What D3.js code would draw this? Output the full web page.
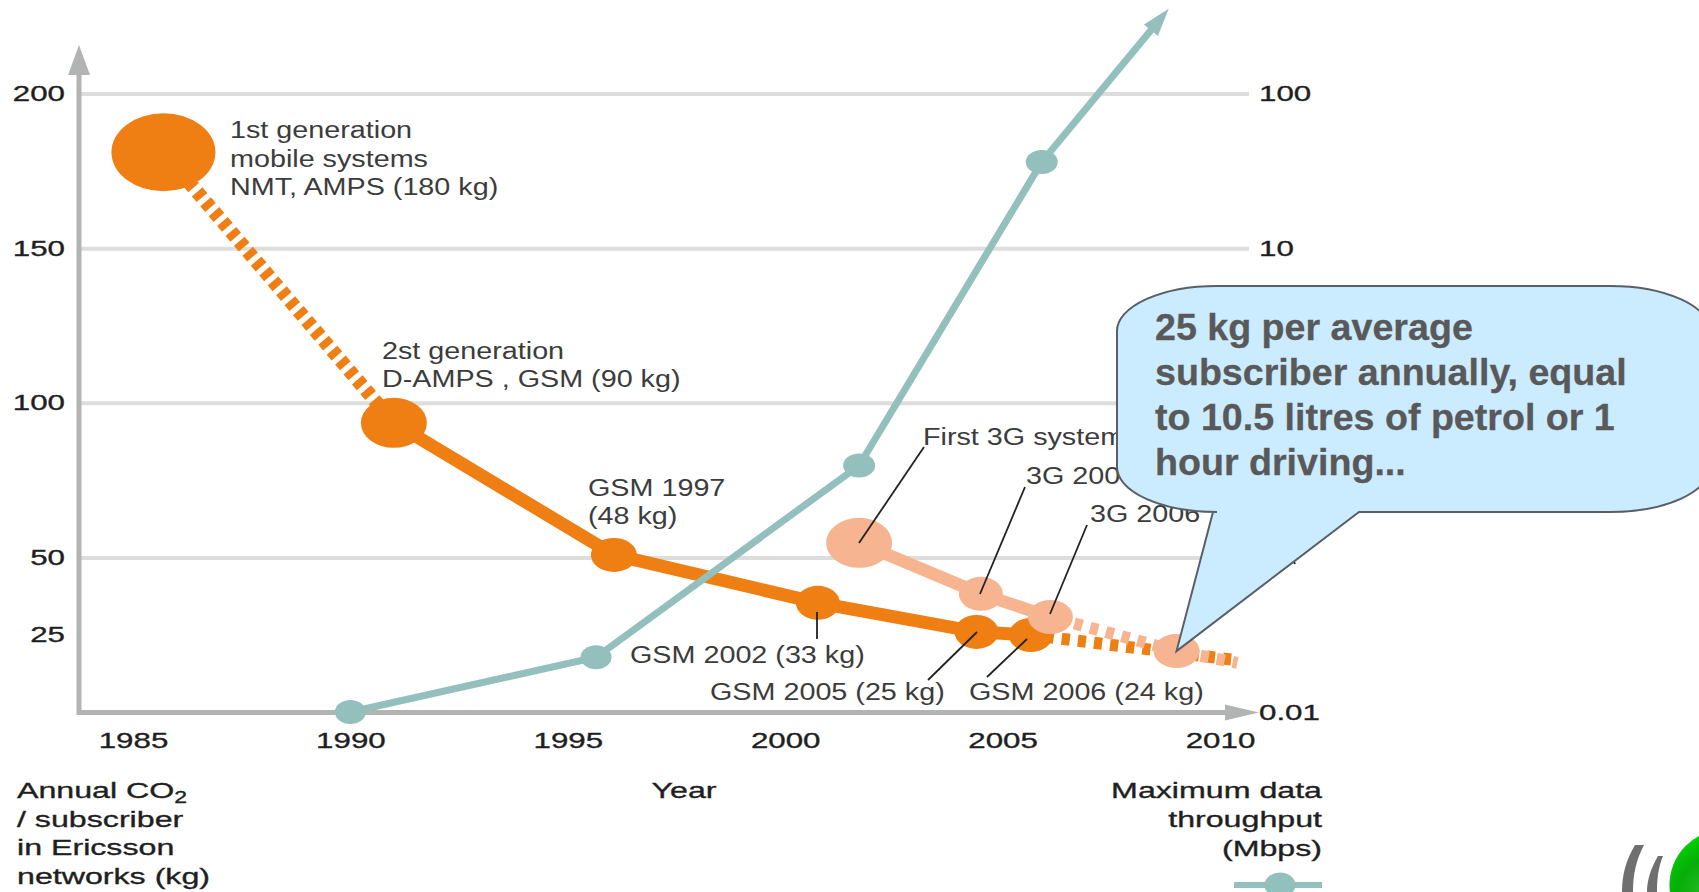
<!DOCTYPE html>
<html>
<head>
<meta charset="utf-8">
<script src="https://d3js.org/d3.v7.min.js"></script>
<style>
  html, body { margin: 0; padding: 0; background: #fff; overflow: hidden; }
  svg { display: block; }
  text { font-family: "Liberation Sans", Arial, sans-serif; }
</style>
</head>
<body>
<div id="chart"></div>
<script>
// values
var co2Years = [1985.7, 1991, 1996.06, 2000.75, 2004.4, 2005.65, 2010.35];
var co2Values = [181, 93.5, 50.8, 35.3, 25.9, 24.9, 16.8];
var g3Years = [2001.7, 2004.5, 2006.1, 2009, 2010.4];
var g3Values = [54.7, 38.2, 30.7, 19.7, 15.9];
var rateYears = [1990, 1995.65, 2001.7, 2005.9, 2008.44];
var rateValues = [0.01, 0.0226, 0.393, 36, 262];

var yearTicks = [1985, 1990, 1995, 2000, 2005, 2010];
var co2Ticks = [25, 50, 100, 150, 200];
var gridTicks = [50, 100, 150, 200];
var rateTicks = [0.01, 10, 100];

var calloutLines = ["25 kg per average", "subscriber annually, equal", "to 10.5 litres of petrol or 1", "hour driving..."];
var co2Title = ["/ subscriber", "in Ericsson", "networks (kg)"];
var rateTitle = ["Maximum data", "throughput", "(Mbps)"];

var svgWidth = 1699;
var svgHeight = 892;

var orange = "#ef7f13";
var peach = "#f6b490";
var teal = "#93bfbc";
var axisGrey = "#b2b4b4";
var gridGrey = "#dddddd";
var inkDark = "#1f1f1f";

var svg = d3.select("#chart")
    .append("svg")
    .attr("width", svgWidth)
    .attr("height", svgHeight);

var defs = svg.append("defs");

var xScale = d3.scaleLinear().domain([1985, 2010]).range([133, 1220]);
var yLeft = d3.scaleLinear().domain([0, 200]).range([712, 93.5]);
var yRight = d3.scaleLog().domain([0.01, 100]).range([712, 93.5]);

function zipPoints(xs, ys) {
    return xs.map(function (x, i) { return [x, ys[i]]; });
}

// the picture is stretched sideways, so the text is too
function stretchedText(str, x, y, opts) {
    return svg.append("text")
        .attr("transform", `translate(${x}, ${y}) scale(${opts.sx}, 1)`)
        .attr("text-anchor", opts.anchor || "start")
        .attr("font-size", opts.size || 22)
        .attr("font-weight", opts.weight || "normal")
        .attr("fill", opts.fill || inkDark)
        .attr("stroke", opts.heavy ? (opts.fill || inkDark) : null)
        .attr("stroke-width", opts.heavy || null)
        .text(str);
}

// grid
var grid = svg.append("g").attr("transform", "translate(79, 0)")
    .call(d3.axisRight(yLeft).tickValues(gridTicks).tickSize(1170).tickFormat(""));
grid.select(".domain").remove();
grid.selectAll("line").attr("stroke", gridGrey).attr("stroke-width", 4);

// axis lines and arrowheads
var axes = svg.append("g");
axes.append("path")
    .attr("d", "M79,72V712.5H1230")
    .attr("fill", "none")
    .attr("stroke", axisGrey)
    .attr("stroke-width", 5);
axes.append("path").attr("d", "M79,45L90,75H68Z").attr("fill", axisGrey);
axes.append("path").attr("d", "M1259,712.5L1225,704.5V720.5Z").attr("fill", axisGrey);

// tick labels through the d3 axes
function styleTicks(axisGroup, offset, anchor) {
    axisGroup.select(".domain").remove();
    axisGroup.selectAll("line").remove();
    axisGroup.selectAll("text")
        .attr("x", 0)
        .attr("y", 0)
        .attr("dy", null)
        .attr("text-anchor", anchor)
        .attr("font-family", null)
        .attr("font-size", 22.5)
        .attr("fill", inkDark)
        .attr("stroke", inkDark)
        .attr("stroke-width", 0.35)
        .attr("transform", `translate(${offset[0]}, ${offset[1]}) scale(1.39, 1)`);
}

var leftAxis = svg.append("g")
    .call(d3.axisLeft(yLeft).tickValues(co2Ticks).tickFormat(d3.format("d")));
styleTicks(leftAxis, [65, 7], "end");

var rightAxis = svg.append("g")
    .call(d3.axisRight(yRight).tickValues(rateTicks).tickFormat(function (d) { return String(d); }));
styleTicks(rightAxis, [1259, 7], "start");

var bottomAxis = svg.append("g")
    .call(d3.axisBottom(xScale).tickValues(yearTicks).tickFormat(d3.format("d")));
styleTicks(bottomAxis, [0, 748], "middle");

// lines
var co2Line = d3.line()
    .x(function (d) { return xScale(d[0]); })
    .y(function (d) { return yLeft(d[1]); });
var rateLine = d3.line()
    .x(function (d) { return xScale(d[0]); })
    .y(function (d) { return yRight(d[1]); });

var co2Points = zipPoints(co2Years, co2Values);
var g3Points = zipPoints(g3Years, g3Values);
var ratePoints = zipPoints(rateYears, rateValues);

function addLine(points, lineFn, color, width, dash, dashOffset) {
    return svg.append("path")
        .attr("d", lineFn(points))
        .attr("fill", "none")
        .attr("stroke", color)
        .attr("stroke-width", width)
        .attr("stroke-dasharray", dash || null)
        .attr("stroke-dashoffset", dashOffset || null);
}

function addDots(points, scaleY, color, radii) {
    svg.append("g").selectAll("ellipse")
        .data(points)
        .enter()
        .append("ellipse")
        .attr("cx", function (d) { return xScale(d[0]); })
        .attr("cy", function (d) { return scaleY(d[1]); })
        .attr("rx", function (d, i) { return radii[i][0]; })
        .attr("ry", function (d, i) { return radii[i][1]; })
        .attr("fill", color);
}

addLine(co2Points.slice(0, 2), co2Line, orange, 14, "7.5 5.5");
addLine(co2Points.slice(1, 6), co2Line, orange, 13);
addLine(co2Points.slice(5), co2Line, orange, 12, "8.2 8.05", -14.8);
addDots(co2Points.slice(0, 6), yLeft, orange, [[52, 39], [33, 25], [23, 17], [22, 17], [22, 17], [22, 17]]);

addLine(g3Points.slice(0, 3), co2Line, peach, 12.5);
addLine(g3Points.slice(2), co2Line, peach, 12, "8.2 8.1", -24.8);
addDots(g3Points.slice(0, 4), yLeft, peach, [[33, 25], [22, 17], [22.5, 17], [23, 17]]);

defs.append("marker")
    .attr("id", "rateHead")
    .attr("markerUnits", "userSpaceOnUse")
    .attr("markerWidth", 30)
    .attr("markerHeight", 24)
    .attr("refX", 2)
    .attr("refY", 12)
    .attr("orient", "auto")
    .append("path")
    .attr("d", "M0,3L28,12L0,21Z")
    .attr("fill", teal);

addLine(ratePoints, rateLine, teal, 7).attr("marker-end", "url(#rateHead)");
addDots(ratePoints.slice(0, 4), yRight, teal, [[15.5, 12], [15.5, 12], [16, 12], [16, 12]]);

// notes
var notes = [
    ["1st generation", 230, 138], ["mobile systems", 230, 167], ["NMT, AMPS (180 kg)", 230, 195],
    ["2st generation", 382, 359], ["D-AMPS , GSM (90 kg)", 382, 387],
    ["GSM 1997", 588, 496], ["(48 kg)", 588, 524],
    ["First 3G system", 923, 445], ["3G 2004", 1026, 484], ["3G 2006", 1090, 522],
    ["GSM 2002 (33 kg)", 630, 663], ["GSM 2005 (25 kg)", 710, 700], ["GSM 2006 (24 kg)", 969, 700]
];
notes.forEach(function (n) {
    stretchedText(n[0], n[1], n[2], { sx: 1.25, size: 23, fill: "#3c3c3c" });
});

var leaders = [
    [924, 447, 859, 543], [1025, 487, 980, 594], [1087, 525, 1050, 614],
    [817, 612, 817, 639], [977, 632, 928, 680], [1027, 639, 987, 677], [1292, 558, 1295, 564]
];
svg.append("g").selectAll("line")
    .data(leaders)
    .enter()
    .append("line")
    .attr("x1", function (d) { return d[0]; })
    .attr("y1", function (d) { return d[1]; })
    .attr("x2", function (d) { return d[2]; })
    .attr("y2", function (d) { return d[3]; })
    .attr("stroke", "#222")
    .attr("stroke-width", 1.8);

// axis titles
var titleStyle = { sx: 1.43, size: 22.5, heavy: 0.35 };
var title = stretchedText("Annual CO", 17, 798, titleStyle);
title.append("tspan").attr("dy", 5).attr("font-size", 16).text("2");
co2Title.forEach(function (s, i) {
    stretchedText(s, 17, 827 + i * 28.3, titleStyle);
});
stretchedText("Year", 684, 798, { sx: 1.43, size: 22.5, heavy: 0.35, anchor: "middle" });
rateTitle.forEach(function (s, i) {
    stretchedText(s, 1322, 798 + i * 29, { sx: 1.43, size: 22.5, heavy: 0.35, anchor: "end" });
});

// series key under the right title
svg.append("line")
    .attr("x1", 1234).attr("x2", 1322).attr("y1", 885).attr("y2", 885)
    .attr("stroke", teal).attr("stroke-width", 6);
svg.append("ellipse")
    .attr("cx", 1280).attr("cy", 885).attr("rx", 15.5).attr("ry", 12.5)
    .attr("fill", teal);

// speech bubble, tip sits on the 2009 3G point
var tipX = xScale(g3Years[3]);
var tipY = yLeft(g3Values[3]);
var bubble = "M1217,286H1610A100,45 0 0 1 1710,331V467A100,45 0 0 1 1610,512H1359"
    + `L${tipX},${tipY}L1213,512H1217A100,45 0 0 1 1117,467V331A100,45 0 0 1 1217,286Z`;
svg.append("path")
    .attr("d", bubble)
    .attr("fill", "#cbebff")
    .attr("stroke", "#595f66")
    .attr("stroke-width", 2);

calloutLines.forEach(function (s, i) {
    stretchedText(s, 1155, 340 + i * 45, { size: 37, weight: "bold", sx: 1.017, fill: "#595959", heavy: 0.3 });
});

// logo corner
var ballFill = defs.append("radialGradient")
    .attr("id", "ballFill")
    .attr("cx", "40%").attr("cy", "60%").attr("r", "62%");
ballFill.append("stop").attr("offset", "0%").attr("stop-color", "#2fbd31");
ballFill.append("stop").attr("offset", "55%").attr("stop-color", "#06ae08");
ballFill.append("stop").attr("offset", "100%").attr("stop-color", "#00dc00");
svg.append("circle")
    .attr("cx", 1725).attr("cy", 885).attr("r", 55.5)
    .attr("fill", "url(#ballFill)");
svg.append("path")
    .attr("d", "M1635,845H1644C1636,860 1633,875 1633,892H1622C1622,875 1626,860 1635,845Z")
    .attr("fill", "#6f6f6f");
svg.append("path")
    .attr("d", "M1658,856H1663C1658,868 1657,880 1657,892H1647C1647,880 1651,868 1658,856Z")
    .attr("fill", "#6f6f6f");
</script>
</body>
</html>
